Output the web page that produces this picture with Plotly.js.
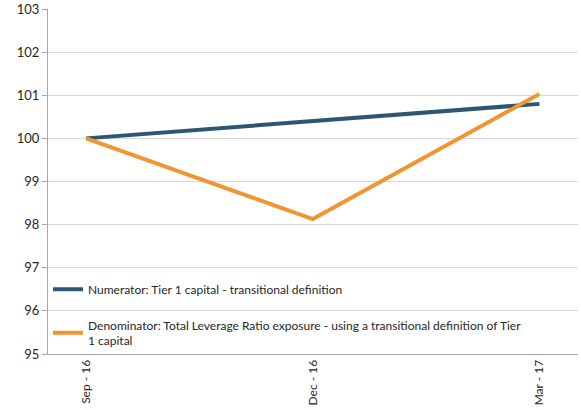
<!DOCTYPE html>
<html>
<head>
<meta charset="utf-8">
<script src="https://cdn.plot.ly/plotly-3.0.1.min.js"></script>
<style>html,body{margin:0;padding:0;background:#fff}#chart{width:581px;height:410px}</style>
</head>
<body>
<div id="chart"></div>
<script>
const categories = ["Sep - 16", "Dec - 16", "Mar - 17"];
const numeratorName = "Numerator: Tier 1 capital - transitional definition";
const numeratorValues = [100.0, 100.4, 100.8];
const denominatorName = "Denominator: Total Leverage Ratio exposure - using a transitional definition of Tier<br>1 capital";
const denominatorValues = [100.0, 98.13, 101.03];
const yTicks = [95, 96, 97, 98, 99, 100, 101, 102, 103];

const font = {family: "Lato, 'Open Sans', sans-serif", size: 12, color: "#262626"};

const traces = [
  {x: categories, y: numeratorValues, name: numeratorName, type: "scatter", mode: "lines",
   line: {color: "#2c5675", width: 4}, legendgroup: "a"},
  {x: categories, y: denominatorValues, name: denominatorName, type: "scatter", mode: "lines",
   line: {color: "#f0952f", width: 4}, legendgroup: "b"}
];

const layout = {
  width: 581, height: 410,
  margin: {l: 48, r: 3, t: 9, b: 56},
  paper_bgcolor: "#fff", plot_bgcolor: "#fff",
  font: font,
  showlegend: true,
  legend: {x: 0.0, y: 0.23, xanchor: "left", yanchor: "top", bgcolor: "rgba(0,0,0,0)",
           traceorder: "grouped", tracegroupgap: 17, font: {family: font.family, size: 12, color: "#262626"}},
  xaxis: {type: "category", range: [-0.168, 2.17], showgrid: false, zeroline: false,
          showline: true, linecolor: "#a6a6a6", linewidth: 1, tickangle: -90,
          ticks: "", tickfont: {family: font.family, size: 12, color: "#262626"}},
  yaxis: {range: [95, 103], tickvals: yTicks, showgrid: true, gridcolor: "#d9d9d9", gridwidth: 1,
          zeroline: false, showline: true, linecolor: "#a6a6a6", linewidth: 1,
          ticks: "outside", ticklen: 5, tickcolor: "#a6a6a6",
          tickfont: {family: font.family, size: 13, color: "#262626"}}
};

Plotly.newPlot("chart", traces, layout, {displayModeBar: false, staticPlot: true});
</script>
</body>
</html>
